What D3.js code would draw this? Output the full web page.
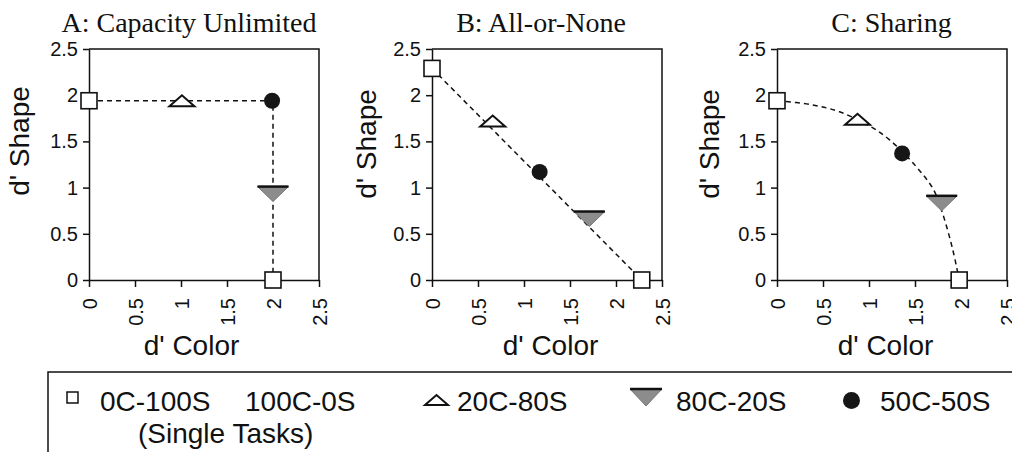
<!DOCTYPE html>
<html>
<head>
<meta charset="utf-8">
<script src="https://cdn.jsdelivr.net/npm/d3@7"></script>
<style>
  html, body { margin: 0; padding: 0; background: #fff; }
  svg { display: block; }
  .tick text { font-family: "Liberation Sans", Arial, sans-serif; font-size: 20px; fill: #111; }
  .tick line, .domain { stroke: #111; stroke-width: 1.5px; }
</style>
</head>
<body>
<svg id="chart" width="1012" height="452"></svg>
<script>
// ---- data ----
const panelTitles = ["A: Capacity Unlimited", "B: All-or-None", "C: Sharing"];
const axisTicks = [0, 0.5, 1, 1.5, 2, 2.5];
const axisTickLabels = ["0", "0.5", "1", "1.5", "2", "2.5"];

// [d' Color, d' Shape] per panel
const singleTasks = [
  [[0, 1.94], [2.0, 0]],
  [[0, 2.29], [2.28, 0]],
  [[0, 1.94], [1.98, 0]]
];
const cond20C80S = [[1.01, 1.94], [0.66, 1.72], [0.875, 1.74]];
const cond80C20S = [[2.0, 0.93], [1.71, 0.66], [1.79, 0.83]];
const cond50C50S = [[1.99, 1.94], [1.17, 1.17], [1.36, 1.37]];

// predicted operating characteristics
const curveCapacity = [[0, 1.94], [2.0, 1.94], [2.0, 0]];
const curveAllOrNone = [[0, 2.29], [2.28, 0]];
const curveSharing = [[0, 1.94], [0.36, 1.90], [0.68, 1.82], [1.0, 1.67], [1.22, 1.52],
                      [1.51, 1.23], [1.70, 0.98], [1.80, 0.72], [1.91, 0.33], [1.98, 0]];

const legendLabels = ["0C-100S", "100C-0S", "(Single Tasks)", "20C-80S", "80C-20S", "50C-50S"];

// ---- layout ----
const panels = [
  { left: 89,  titleX: 189,   xTitleX: 191.5, yTitleX: 29,  yTitleY: 141, curve: curveCapacity,  smooth: false },
  { left: 432, titleX: 541,   xTitleX: 550.5, yTitleX: 376, yTitleY: 144, curve: curveAllOrNone, smooth: false },
  { left: 777, titleX: 891.5, xTitleX: 885.5, yTitleX: 719, yTitleY: 144, curve: curveSharing,   smooth: true }
];
const plotW = 230, plotTop = 49, plotBottom = 280;
const grayFill = "#8c8c8c";

const svg = d3.select("#chart");
svg.append("rect").attr("width", 1012).attr("height", 452).attr("fill", "#fff");

// marker shapes (centred on their bounding box)
function triUp(w, h) {
  return `M${-w/2},${h/2}L${w/2},${h/2}L0,${-h/2}Z`;
}
function triDown(w, h) {
  return `M${-w/2},${-h/2}L${w/2},${-h/2}L0,${h/2}Z`;
}
function drawDown(g, x, y, w, h) {
  g.append("path").attr("d", triDown(w, h)).attr("transform", `translate(${x},${y})`)
    .attr("fill", grayFill).attr("stroke", "#777").attr("stroke-width", 1);
  g.append("line").attr("x1", x - w/2).attr("x2", x + w/2).attr("y1", y - h/2).attr("y2", y - h/2)
    .attr("stroke", "#111").attr("stroke-width", 2.5);
}

panels.forEach((p, i) => {
  const x = d3.scaleLinear().domain([0, 2.5]).range([p.left, p.left + plotW]);
  const y = d3.scaleLinear().domain([0, 2.5]).range([plotBottom, plotTop]);
  const g = svg.append("g");

  // frame (top and right)
  g.append("path")
    .attr("d", `M${x(0)},${y(2.5)}H${x(2.5)}V${y(0)}`)
    .attr("fill", "none").attr("stroke", "#111").attr("stroke-width", 1.5);

  // y axis
  g.append("g").attr("transform", `translate(${x(0)},0)`)
    .call(d3.axisLeft(y).tickValues(axisTicks).tickFormat((d, k) => axisTickLabels[k])
      .tickSize(6).tickSizeOuter(0).tickPadding(5))
    .call(a => a.selectAll("text").attr("text-anchor", "end"));

  // x axis with rotated labels
  g.append("g").attr("transform", `translate(0,${y(0)})`)
    .call(d3.axisBottom(x).tickValues(axisTicks).tickFormat((d, k) => axisTickLabels[k])
      .tickSize(7).tickSizeOuter(0))
    .call(a => a.selectAll("text")
      .attr("transform", "rotate(-90)")
      .attr("text-anchor", "end")
      .attr("x", -18).attr("y", 0).attr("dy", "0.35em"));

  // titles
  g.append("text").text(panelTitles[i])
    .attr("x", p.titleX).attr("y", 32).attr("text-anchor", "middle")
    .attr("font-family", "'Liberation Serif', 'Times New Roman', serif").attr("font-size", 28).attr("fill", "#111");
  g.append("text").text("d' Color")
    .attr("x", p.xTitleX).attr("y", 355).attr("text-anchor", "middle")
    .attr("font-family", "'Liberation Sans', Arial, sans-serif").attr("font-size", 28).attr("fill", "#111");
  g.append("text").text("d' Shape")
    .attr("transform", `translate(${p.yTitleX},${p.yTitleY}) rotate(-90)`).attr("text-anchor", "middle")
    .attr("font-family", "'Liberation Sans', Arial, sans-serif").attr("font-size", 28).attr("fill", "#111");

  // dashed operating characteristic
  const line = d3.line().x(d => x(d[0])).y(d => y(d[1]))
    .curve(p.smooth ? d3.curveCatmullRom.alpha(0.5) : d3.curveLinear);
  g.append("path").datum(p.curve).attr("d", line)
    .attr("fill", "none").attr("stroke", "#111").attr("stroke-width", 1.5)
    .attr("stroke-dasharray", "5,4");

  // markers
  const d20 = cond20C80S[i], d80 = cond80C20S[i], d50 = cond50C50S[i];
  g.append("path").attr("d", triUp(25, 11))
    .attr("transform", `translate(${x(d20[0])},${y(d20[1])})`)
    .attr("fill", "#fff").attr("stroke", "#111").attr("stroke-width", 2);
  drawDown(g, x(d80[0]), y(d80[1]), 31, 15);
  g.append("circle").attr("cx", x(d50[0])).attr("cy", y(d50[1])).attr("r", 8)
    .attr("fill", "#161616");
  g.selectAll("rect.single").data(singleTasks[i]).join("rect").attr("class", "single")
    .attr("x", d => x(d[0]) - 8).attr("y", d => y(d[1]) - 8)
    .attr("width", 16).attr("height", 16)
    .attr("fill", "#fff").attr("stroke", "#111").attr("stroke-width", 1.6);
});

// ---- legend ----
const lg = svg.append("g");
lg.append("path").attr("d", "M48,452V372H1012")
  .attr("fill", "none").attr("stroke", "#111").attr("stroke-width", 1.5);
const legendFont = "'Liberation Sans', Arial, sans-serif";
const textPos = [[100, 411], [245, 411], [138, 443], [457, 411], [676, 411], [880, 411]];
legendLabels.forEach((t, k) => {
  lg.append("text").text(t).attr("x", textPos[k][0]).attr("y", textPos[k][1])
    .attr("font-family", legendFont).attr("font-size", 28).attr("fill", "#111");
});
lg.append("rect").attr("x", 67).attr("y", 392).attr("width", 11).attr("height", 11)
  .attr("fill", "#fff").attr("stroke", "#111").attr("stroke-width", 1.5);
lg.append("path").attr("d", triUp(23, 10)).attr("transform", "translate(436.5,400)")
  .attr("fill", "#fff").attr("stroke", "#111").attr("stroke-width", 2);
drawDown(lg, 646, 397.5, 32, 17);
lg.append("circle").attr("cx", 851.5).attr("cy", 400.5).attr("r", 8.5).attr("fill", "#161616");
</script>
</body>
</html>
